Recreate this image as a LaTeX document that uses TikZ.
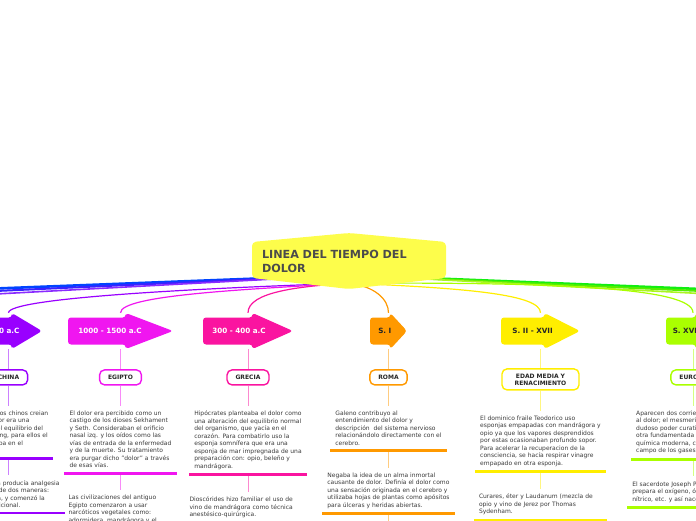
\documentclass[tikz,border=0pt]{standalone}
\usepackage{fontspec}
\setmainfont{DejaVu Sans}
\usetikzlibrary{calc, positioning, backgrounds}

\definecolor{chinacol}{HTML}{9900FF}
\definecolor{egiptocol}{HTML}{F016F0}
\definecolor{greciacol}{HTML}{FA14A0}
\definecolor{romacol}{HTML}{FF9900}
\definecolor{edadcol}{HTML}{FFEE00}
\definecolor{europacol}{HTML}{AAFF00}
\definecolor{dolorfill}{HTML}{FDFD4B}
\definecolor{titlegray}{HTML}{4B4B4B}
\definecolor{notegray}{HTML}{3A3A3A}
\definecolor{bluecol}{HTML}{0044FF}
\definecolor{indigocol}{HTML}{3A22FF}
\definecolor{violetcol}{HTML}{8A2BFF}
\definecolor{greencol}{HTML}{11EE11}
\definecolor{greentwocol}{HTML}{55EE00}
\definecolor{limecol}{HTML}{AAF522}

\tikzset{
  topic/.style={minimum width=194pt, minimum height=56pt, inner xsep=10pt, inner ysep=0pt,
    text width=174pt, align=left, text=titlegray, font=\bfseries\fontsize{11.2}{14}\selectfont,
    path picture={
      \fill[dolorfill, rounded corners=4pt]
        ($(path picture bounding box.north west)+(0,-9)$) -- (path picture bounding box.north)
        -- ($(path picture bounding box.north east)+(0,-9)$) -- ($(path picture bounding box.south east)+(0,11)$)
        -- (path picture bounding box.south) -- ($(path picture bounding box.south west)+(0,11)$) -- cycle;}},
  era/.style 2 args={minimum width=#2pt, minimum height=36pt, inner sep=0pt,
    font=\bfseries\fontsize{7.2}{8}\selectfont,
    execute at end node={\hspace*{.2\dimexpr#2pt\relax}},
    path picture={
      \coordinate (pw) at (path picture bounding box.west);
      \coordinate (pe) at (path picture bounding box.east);
      \coordinate (pm) at ($(pw)!.55!(pe)$);
      \fill[#1, rounded corners=3pt] ($(pw)+(0,13.5)$) -- ($(pm)+(0,13.5)$) -- ($(pm)+(0,18)$) -- (pe)
        -- ($(pm)+(0,-18)$) -- ($(pm)+(0,-13.5)$) -- ($(pw)+(0,-13.5)$) -- cycle;}},
  cat/.style={draw=#1, line width=1.4pt, fill=white, rounded corners=5pt, inner xsep=8.5pt, inner ysep=0pt,
    minimum height=15pt, align=center, text=black!85, font=\bfseries\fontsize{6}{7}\selectfont},
  note/.style={align=left, inner xsep=5pt, inner ysep=5pt, text=notegray, font=\fontsize{6}{7.5}\selectfont,
    append after command={(\tikzlastnode.south west) edge[draw=#1, line width=2.8pt] (\tikzlastnode.south east)}},
  branch/.style={draw=#1, line width=1.2pt},
  link/.style={draw=#1!50, line width=1pt}
}

\begin{document}
\begin{tikzpicture}[x=1pt, y=1pt]
    \useasboundingbox (0,0) rectangle (696,520);
    \clip (0,0) rectangle (696,520);

    \node[topic] (dolor) at (349,259) {LINEA DEL TIEMPO DEL\\DOLOR};

    \node[era={chinacol}{67}, text=white] (chinaEra) at (8.5,189) {2000 a.C};
    \node[era={egiptocol}{105}, text=white] (egiptoEra) at (120.5,189) {1000 - 1500 a.C};
    \node[era={greciacol}{90}, text=white] (greciaEra) at (248,189) {300 - 400 a.C};
    \node[era={romacol}{37}, text=black!85] (romaEra) at (388.5,189) {S. I};
    \node[era={edadcol}{79}, text=black!85] (edadEra) at (540.5,189) {S. II - XVII};
    \node[era={europacol}{54}, text=black!85] (europaEra) at (693,189) {S. XVIII};

    \node[cat=chinacol, below=20pt of chinaEra] (chinaCat) {CHINA};
    \node[cat=egiptocol, below=20pt of egiptoEra] (egiptoCat) {EGIPTO};
    \node[cat=greciacol, below=20pt of greciaEra] (greciaCat) {GRECIA};
    \node[cat=romacol, below=20pt of romaEra] (romaCat) {ROMA};
    \node[cat=edadcol, minimum width=77pt, minimum height=21pt, below=19pt of edadEra] (edadCat) {EDAD MEDIA Y\\RENACIMIENTO};
    \node[cat=europacol, below=20pt of europaEra] (europaCat) {EUROPA};

    \node[note=chinacol, below=20pt of chinaCat] (chinaA) {Los antiguos chinos creian\\que el dolor era una\\ruptura del equilibrio del\\yin y el yang, para ellos el\\dolor estaba en el\\corazón.};
    \node[note=chinacol, below=17pt of chinaA] (chinaB) {La acupuntura producía analgesia\\y se aplicaba de dos maneras:\\agujas y moxa, y comenzó la\\medicina tradicional.};

    \node[note=egiptocol, below=20pt of egiptoCat] (egiptoA) {El dolor era percibido como un\\castigo de los dioses Sekhament\\y Seth. Consideraban el orificio\\nasal izq. y los oídos como las\\vías de entrada de la enfermedad\\y de la muerte. Su tratamiento\\era purgar dicho "dolor" a través\\de esas vías.};
    \node[note=egiptocol, text width=104pt, below=17pt of egiptoA] (egiptoB) {Las civilizaciones del antiguo\\Egipto comenzaron a usar\\narcóticos vegetales como:\\adormidera, mandrágora y el\\cáñamo.};

    \node[note=greciacol, below=20pt of greciaCat] (greciaA) {Hipócrates planteaba el dolor como\\una alteración del equilibrio normal\\del organismo, que yacía en el\\corazón. Para combatirlo uso la\\esponja somnífera que era una\\esponja de mar impregnada de una\\preparación con: opio, beleño y\\mandrágora.};
    \node[note=greciacol, text width=117pt, below=17pt of greciaA] (greciaB) {Dioscórides hizo familiar el uso de\\vino de mandrágora como técnica\\anestésico-quirúrgica.};

    \node[note=romacol, below=20pt of romaCat] (romaA) {Galeno contribuyo al\\entendimiento del dolor y\\descripción~ del sistema nervioso\\relacionándolo directamente con el\\cerebro.};
    \node[note=romacol, below=17pt of romaA] (romaB) {Negaba la idea de un alma inmortal\\causante de dolor. Definía el dolor como\\una sensación originada en el cerebro y\\utilizaba hojas de plantas como apósitos\\para úlceras y heridas abiertas.};
    \coordinate (romaC) at ($(romaB.south)+(0,-30)$);

    \node[note=edadcol, below=20pt of edadCat] (edadA) {El dominico fraile Teodorico uso\\esponjas empapadas con mandrágora y\\opio ya que los vapores desprendidos\\por estas ocasionaban profundo sopor.\\Para acelerar la recuperacion de la\\consciencia, se hacía respirar vinagre\\empapado en otra esponja.};
    \node[note=edadcol, text width=123pt, below=17pt of edadA] (edadB) {Curares, éter y Laudanum (mezcla de\\opio y vino de Jerez por Thomas\\Sydenham.};

    \node[note=europacol, below=20pt of europaCat] (europaA) {Aparecen dos corrientes con respecto\\al dolor; el mesmerismo, de\\dudoso poder curativo, y la\\otra fundamentada en la\\química moderna, con el\\campo de los gases.};
    \node[note=europacol, below=17pt of europaA] (europaB) {El sacerdote Joseph Priestley descubre y\\prepara el oxígeno, óxido nitroso, ácido\\nítrico, etc. y así nace la anestesia.};

    \begin{scope}[on background layer]
        \coordinate (root) at ([yshift=-14pt]dolor.center);
        \coordinate (hub) at ([yshift=6pt]dolor.south);
        \coordinate (westA) at (-4,231.5);
        \coordinate (westB) at (-4,229);
        \coordinate (westC) at (-4,226);
        \coordinate (eastA) at (700,231);
        \coordinate (eastB) at (700,229);
        \coordinate (eastC) at (700,226.5);

        \draw[branch=bluecol, line width=2.6pt] (root) -- (westA);
        \draw[branch=indigocol, line width=2pt] (root) -- (westB);
        \draw[branch=violetcol, line width=1.6pt] (root) -- (westC);
        \draw[branch=greencol, line width=2.6pt] (root) -- (eastA);
        \draw[branch=greentwocol, line width=2pt] (root) -- (eastB);
        \draw[branch=limecol, line width=1.6pt] (root) -- (eastC);

        \draw[branch=chinacol] (hub) .. controls +(-149,-5) and +(0,15) .. (chinaEra.north);
        \draw[branch=egiptocol] (hub) .. controls +(-99,-6) and +(0,18) .. (egiptoEra.north);
        \draw[branch=greciacol] (hub) .. controls +(-49,-3) and +(0,21) .. (greciaEra.north);
        \draw[branch=romacol] (hub) .. controls +(25,-3) and +(0,14) .. (romaEra.north);
        \draw[branch=edadcol] (hub) .. controls +(121,-5) and +(0,18) .. (edadEra.north);
        \draw[branch=europacol] (hub) .. controls +(211,1) and +(0,25) .. (europaEra.north);

        \draw[link=chinacol] (chinaEra) -- (chinaCat);
        \draw[link=chinacol] (chinaCat) -- (chinaA.north);
        \draw[link=chinacol] (chinaA.south) -- (chinaB.north);
        \draw[link=egiptocol] (egiptoEra) -- (egiptoCat);
        \draw[link=egiptocol] (egiptoCat) -- (egiptoA.north);
        \draw[link=egiptocol] (egiptoA.south) -- (egiptoB.north);
        \draw[link=greciacol] (greciaEra) -- (greciaCat);
        \draw[link=greciacol] (greciaCat) -- (greciaA.north);
        \draw[link=greciacol] (greciaA.south) -- (greciaB.north);
        \draw[link=romacol] (romaEra) -- (romaCat);
        \draw[link=romacol] (romaCat) -- (romaA.north);
        \draw[link=romacol] (romaA.south) -- (romaB.north);
        \draw[link=romacol] (romaB.south) -- (romaC);
        \draw[link=edadcol] (edadEra) -- (edadCat);
        \draw[link=edadcol] (edadCat) -- (edadA.north);
        \draw[link=edadcol] (edadA.south) -- (edadB.north);
        \draw[link=europacol] (europaEra) -- (europaCat);
        \draw[link=europacol] (europaCat) -- (europaA.north);
        \draw[link=europacol] (europaA.south) -- (europaB.north);
    \end{scope}
\end{tikzpicture}
\end{document}
